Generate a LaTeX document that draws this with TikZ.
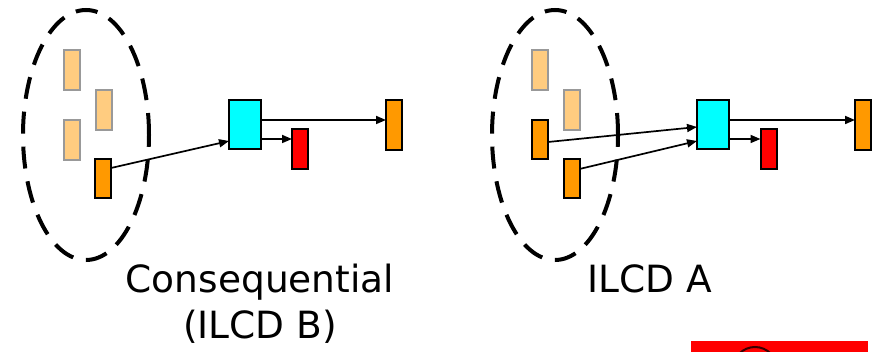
\documentclass[tikz,border=0pt]{standalone}
\usepackage{fontspec}
\setmainfont{DejaVu Sans}
\usetikzlibrary{shapes.geometric,arrows.meta}
\definecolor{lightorange}{HTML}{FFCC80}
\definecolor{borderg}{HTML}{999999}
\definecolor{orangef}{HTML}{FF9900}
\definecolor{cyanf}{HTML}{00FFFF}
\definecolor{redf}{HTML}{FF0000}
\definecolor{darkarc}{HTML}{3A0000}
\tikzset{
  box/.style={rectangle, inner sep=0pt, outer sep=0pt, line width=2pt},
  ltbox/.style={box, fill=lightorange, draw=borderg, minimum width=16pt, minimum height=40pt},
  orbox/.style={box, fill=orangef, draw=black, minimum width=16pt, minimum height=39pt},
  cybox/.style={box, fill=cyanf, draw=black, minimum width=32pt, minimum height=49pt},
  rdbox/.style={box, fill=redf, draw=black, minimum width=16pt, minimum height=40pt},
  endbox/.style={box, fill=orangef, draw=black, minimum width=16pt, minimum height=50pt},
  group/.style={ellipse, draw=black, line width=4pt, dash pattern=on 22pt off 13pt, minimum width=126pt, minimum height=250pt, inner sep=0pt},
  flow/.style={draw=black, line width=1.7pt, -{Triangle[length=10pt,width=8pt]}},
  lbl/.style={font=\fontsize{37.5}{44}\selectfont, inner sep=0pt, anchor=base}
}
\begin{document}
\begin{tikzpicture}[x=1pt,y=-1pt]
\useasboundingbox (0,0) rectangle (880,352);
\begin{scope}
\clip (0,0) rectangle (880,352);
% left group
\node[group] (e1) at (86,135) {};
\node[ltbox] (l1) at (71.5,70) {};
\node[ltbox] (l2) at (103.5,110) {};
\node[ltbox] (l3) at (71.5,140) {};
\node[orbox] (o1) at (103,178.5) {};
\node[cybox] (c1) at (245,124.5) {};
\node[rdbox] (r1) at (300,149) {};
\node[endbox] (d1) at (394,125) {};
\draw[flow] ([yshift=-9pt]o1.north east) -- ([yshift=8pt]c1.south west);
\draw[flow] ([yshift=4.5pt]c1.east) -- ([yshift=5pt]d1.west);
\draw[flow] ([yshift=-14.5pt]c1.east) -- ([yshift=10pt]r1.west);
\node[lbl] (t1) at (260,293) {Consequential};
\node[lbl] (t2) at (260,338) {(ILCD B)};
% right group
\node[group] (e2) at (555,135) {};
\node[ltbox] (l4) at (540,70) {};
\node[ltbox] (l5) at (571.5,110) {};
\node[orbox] (oa) at (540,139.5) {};
\node[orbox] (ob) at (571.5,178.5) {};
\node[cybox] (c2) at (713,124.5) {};
\node[rdbox] (r2) at (768.5,149) {};
\node[endbox] (d2) at (863,125) {};
\draw[flow] ([yshift=-2.5pt]oa.east) -- ([yshift=-2.5pt]c2.west);
\draw[flow] ([yshift=9.5pt]ob.east) -- ([yshift=-16.5pt]c2.west);
\draw[flow] ([yshift=4.5pt]c2.east) -- ([yshift=5pt]d2.west);
\draw[flow] ([yshift=-14.5pt]c2.east) -- ([yshift=10pt]r2.west);
\node[lbl] (t3) at (650,293) {ILCD A};
% bottom red bar
\fill[redf] (691,341) rectangle (868,360);
\draw[darkarc, line width=2pt] (755,369) circle[radius=22];
\end{scope}
\end{tikzpicture}
\end{document}
